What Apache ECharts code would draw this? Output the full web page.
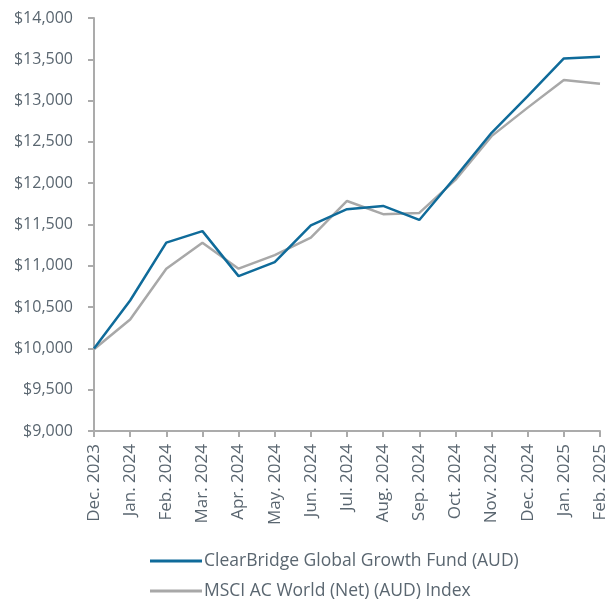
<!DOCTYPE html>
<html lang="en">
<head>
    <meta charset="UTF-8">
    <title>ClearBridge Global Growth Fund</title>
    <style type="text/css">
        *{ margin: 0; padding: 0; }
        #chart{ width: 610px; height: 599px; }
    </style>
</head>
<body>
<div id="chart"></div>
<script src="https://cdn.jsdelivr.net/npm/echarts@6.0.0/dist/echarts.min.js"></script>
<script>
    // 月份
    var months = ['Dec. 2023', 'Jan. 2024', 'Feb. 2024', 'Mar. 2024', 'Apr. 2024', 'May. 2024', 'Jun. 2024',
        'Jul. 2024', 'Aug. 2024', 'Sep. 2024', 'Oct. 2024', 'Nov. 2024', 'Dec. 2024', 'Jan. 2025', 'Feb. 2025'];
    // 基金
    var fundName = 'ClearBridge Global Growth Fund (AUD)';
    var fundValues = [10000, 10580, 11280, 11420, 10875, 11045, 11490, 11685, 11725, 11555, 12075, 12610, 13055, 13510, 13530];
    // 指数
    var indexName = 'MSCI AC World (Net) (AUD) Index';
    var indexValues = [9990, 10350, 10965, 11280, 10965, 11130, 11340, 11785, 11625, 11640, 12040, 12570, 12915, 13250, 13205];

    var textColor = '#5a6670';
    var axisColor = '#ababab';
    var font = '"Open Sans", "Noto Sans", sans-serif';

    var myChart = echarts.init(document.getElementById('chart'));
    var option = {
        animation: false,
        grid: {
            left: 94,
            right: 10,
            top: 18,
            bottom: 168
        },
        legend: {
            orient: 'vertical',
            left: 145,
            top: 547,
            height: 100,
            icon: 'rect',
            itemWidth: 52,
            itemHeight: 3,
            itemGap: 12,
            textStyle: { color: textColor, fontSize: 17.5, fontFamily: font, padding: [0, 0, 0, -3] },
            data: [fundName, indexName]
        },
        xAxis: {
            type: 'category',
            boundaryGap: false,
            data: months,
            axisLine: { lineStyle: { color: axisColor, width: 2 } },
            axisTick: { show: true, length: 6, lineStyle: { color: axisColor, width: 2 } },
            axisLabel: {
                rotate: 90,
                margin: 13,
                color: textColor,
                fontSize: 17,
                fontFamily: font,
                interval: 0
            }
        },
        yAxis: {
            type: 'value',
            min: 9000,
            max: 14000,
            interval: 500,
            splitLine: { show: false },
            axisLine: { show: true, lineStyle: { color: axisColor, width: 2 } },
            axisTick: { show: true, length: 6, lineStyle: { color: axisColor, width: 2 } },
            axisLabel: {
                color: textColor,
                fontSize: 16,
                fontFamily: font,
                margin: 21,
                formatter: function (v) {
                    return '$' + v.toLocaleString('en-US');
                }
            }
        },
        series: [
            {
                name: indexName,
                type: 'line',
                symbol: 'none',
                data: indexValues,
                lineStyle: { color: '#a8a8a8', width: 2.5 },
                itemStyle: { color: '#a8a8a8' },
                z: 2
            },
            {
                name: fundName,
                type: 'line',
                symbol: 'none',
                data: fundValues,
                lineStyle: { color: '#0f6b9a', width: 2.5 },
                itemStyle: { color: '#0f6b9a' },
                z: 3
            }
        ]
    };
    myChart.setOption(option);
</script>
</body>
</html>
